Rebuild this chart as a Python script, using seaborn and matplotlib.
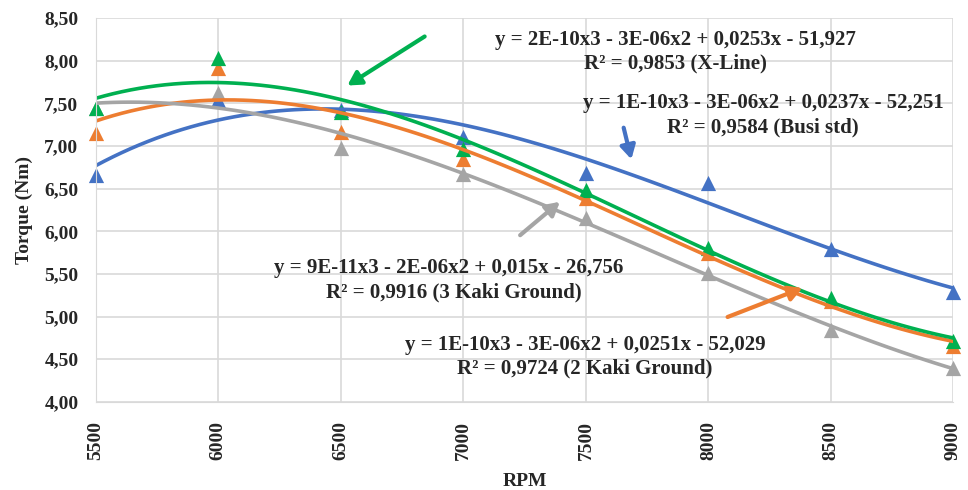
import numpy as np
import pandas as pd
import seaborn as sns
from matplotlib import pyplot as plt
from matplotlib.ticker import FuncFormatter

rpm = [5500, 6000, 6500, 7000, 7500, 8000, 8500, 9000]
busi_std = [6.66, 7.54, 7.42, 7.11, 6.68, 6.57, 5.79, 5.29]
kaki2 = [7.15, 7.92, 7.17, 6.85, 6.39, 5.75, 5.18, 4.66]
kaki3 = [7.45, 7.62, 6.98, 6.67, 6.16, 5.51, 4.84, 4.40]
x_line = [7.45, 8.03, 7.40, 6.96, 6.49, 5.80, 5.22, 4.71]

series = [
    ("Busi std", busi_std, "#4472C4"),
    ("2 Kaki Ground", kaki2, "#ED7D31"),
    ("3 Kaki Ground", kaki3, "#A5A5A5"),
    ("X-Line", x_line, "#00B050"),
]

sns.set_style("whitegrid")
plt.rcParams['font.family'] = ['Liberation Serif', 'DejaVu Serif']
plt.rcParams['font.weight'] = 'bold'

fig = plt.figure(figsize=(9.68, 4.90), dpi=100)
ax = fig.add_axes([0.099, 0.18, 0.886, 0.783])

for name, vals, col in series:
    df = pd.DataFrame({"RPM": rpm, "Torque": vals})
    sns.regplot(data=df, x="RPM", y="Torque", order=3, ci=None, ax=ax,
                marker="^", color=col,
                scatter_kws={"s": 120, "alpha": 1, "linewidths": 0, "clip_on": False},
                line_kws={"lw": 2.6})

ax.set_xlim(5500, 9000)
ax.set_ylim(4.0, 8.5)
ax.set_xticks(rpm)
ax.set_yticks(np.arange(4.0, 8.51, 0.5))
ax.yaxis.set_major_formatter(FuncFormatter(lambda v, p: f"{v:.2f}".replace(".", ",")))
ax.tick_params(axis="x", rotation=90, labelsize=14, pad=10)
ax.tick_params(axis="y", labelsize=14, pad=9)
for lab in ax.get_xticklabels() + ax.get_yticklabels():
    lab.set_fontweight("bold")
ax.grid(True, color="#D9D9D9", lw=1.2)
for s in ["top", "right"]:
    ax.spines[s].set_visible(False)
ax.spines["bottom"].set_color("#D9D9D9")
ax.spines["left"].set_color("#D9D9D9")
ax.set_xlabel("RPM", fontsize=14, fontweight="bold", labelpad=10)
ax.set_ylabel("Torque (Nm)", fontsize=14, fontweight="bold", labelpad=8)

def label(px, py, txt):
    fig.text(px / 968, 1 - py / 490, txt, fontsize=15, fontweight="bold",
             ha="center", va="center")

label(675, 40, "y = 2E-10x3 - 3E-06x2 + 0,0253x - 51,927")
label(675, 63, "R² = 0,9853 (X-Line)")
label(763, 103, "y = 1E-10x3 - 3E-06x2 + 0,0237x - 52,251")
label(763, 127, "R² = 0,9584 (Busi std)")
label(449, 268, "y = 9E-11x3 - 2E-06x2 + 0,015x - 26,756")
label(454, 292, "R² = 0,9916 (3 Kaki Ground)")
label(585, 345, "y = 1E-10x3 - 3E-06x2 + 0,0251x - 52,029")
label(585, 368, "R² = 0,9724 (2 Kaki Ground)")

def arrow(x0, y0, x1, y1, col):
    ax.annotate("", xy=(x1 / 968, 1 - y1 / 490), xytext=(x0 / 968, 1 - y0 / 490),
                xycoords="figure fraction", textcoords="figure fraction",
                arrowprops=dict(arrowstyle="-|>,head_width=0.45,head_length=0.8",
                                color=col, lw=3))

arrow(427, 35, 345, 87, "#00B050")
arrow(623, 125, 632, 162, "#4472C4")
arrow(518, 237, 562, 200, "#A5A5A5")
arrow(725, 318, 805, 287, "#ED7D31")

fig.savefig("out.png", dpi=100)
